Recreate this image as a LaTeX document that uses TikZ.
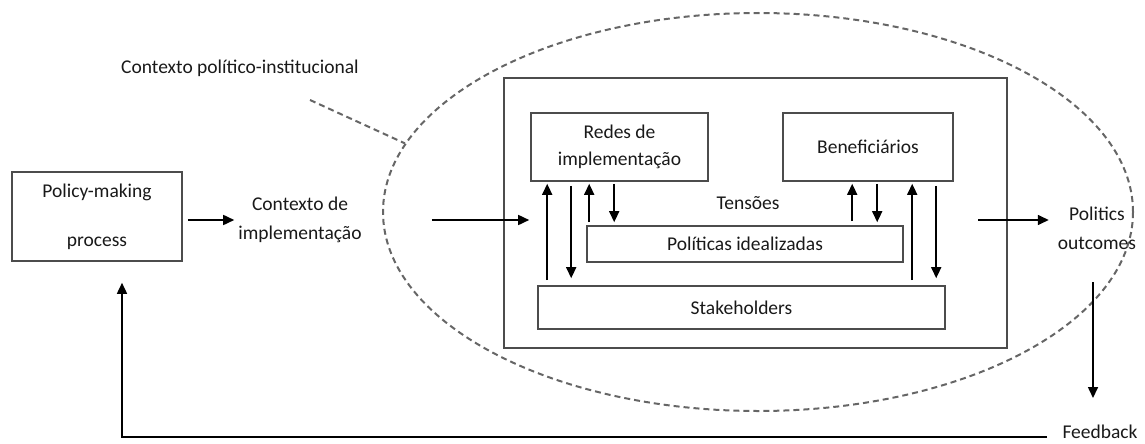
\documentclass[tikz,border=0pt]{standalone}
\usepackage{fontspec}
\setmainfont{Carlito}
\usetikzlibrary{arrows.meta,shapes.geometric}
\begin{document}
\begin{tikzpicture}[x=1pt,y=-1pt,
  box/.style={draw=black!70,line width=1.6pt,inner sep=0pt,align=center,text=black!90},
  lbl/.style={align=center,text=black!90,inner sep=0pt},
  arr/.style={draw=black,line width=1.6pt,-{Triangle[length=11pt,width=10pt]}},
  dsh/.style={draw=black!60,line width=2pt,dash pattern=on 6pt off 4pt},
  font=\fontsize{19.5}{23}\selectfont]
\useasboundingbox (0,0) rectangle (1145,444);

% outer dashed context ellipse
\node[dsh,ellipse,inner sep=0pt,minimum width=750pt,minimum height=398pt] (ctxell) at (758,212) {};
\node[lbl] (ctxpol) at (240,68) {Contexto político-institucional};
\coordinate (lead) at (310,100);
\draw[dsh] (lead) -- (ctxell.169);

% left part
\node[box,minimum width=170pt,minimum height=89pt] (policy) at (97,216.5) {Policy-making\\[26pt]process};
\node[lbl] (ctx) at (300,220) {Contexto de\\[6pt]implementação};

% implementation box and inner boxes
\node[draw=black!70,line width=1.6pt,minimum width=503pt,minimum height=270pt,inner sep=0pt] (impl) at (755.5,213) {};
\node[box,minimum width=177pt,minimum height=68pt] (redes) at (619.5,147) {Redes de\\[4pt]implementação};
\node[box,minimum width=170pt,minimum height=68pt] (benef) at (868,147) {Beneficiários};
\node[box,minimum width=316pt,minimum height=36pt] (polit) at (745,244) {Políticas idealizadas};
\node[box,minimum width=407pt,minimum height=43pt] (stake) at (741.5,307.5) {Stakeholders};
\node[lbl] (tens) at (748,203) {Tensões};

% right part
\node[lbl] (outc) at (1097,228) {Politics\\[6pt]outcomes};
\node[lbl] (feedb) at (1100,432) {Feedback};

% horizontal arrows
\draw[arr,shorten <=5pt,shorten >=4pt] (policy.east |- ctx.west) -- (ctx.west);
\draw[arr,shorten >=1pt] ([xshift=70pt]ctx.east) -- (redes.west |- ctx.east);
\coordinate (o1) at (978,220);
\draw[arr,shorten >=9pt] (o1) -- (outc.west |- o1);

% vertical arrows inside
\draw[arr,shorten <=5pt,shorten >=2pt] ([xshift=10pt]stake.north west) -- ([xshift=17pt]redes.south west);
\draw[arr,shorten <=4pt,shorten >=7pt] ([xshift=41pt]redes.south west) -- ([xshift=34pt]stake.north west);
\draw[arr,shorten <=3pt,shorten >=2pt] ([xshift=3pt]polit.north west) -- ([xshift=59pt]redes.south west);
\draw[arr,shorten <=2pt,shorten >=3pt] ([xshift=84pt]redes.south west) -- ([xshift=28pt]polit.north west);
\draw[arr,shorten <=4pt,shorten >=2pt] ([xshift=266pt]polit.north west) -- ([xshift=70pt]benef.south west);
\draw[arr,shorten <=2pt,shorten >=3pt] ([xshift=95pt]benef.south west) -- ([xshift=291pt]polit.north west);
\draw[arr,shorten <=5pt,shorten >=2pt] ([xshift=375pt]stake.north west) -- ([xshift=130pt]benef.south west);
\draw[arr,shorten <=4pt,shorten >=7pt] ([xshift=154pt]benef.south west) -- ([xshift=399pt]stake.north west);

% outcomes to feedback, feedback loop
\coordinate (d1) at (1093,282);
\coordinate (d2) at (1093,398);
\draw[arr] (d1) -- (d2);
\coordinate (fbs) at (1047,437);
\draw[arr] (fbs) -| ([xshift=25pt,yshift=-21pt]policy.south);
\end{tikzpicture}
\end{document}
